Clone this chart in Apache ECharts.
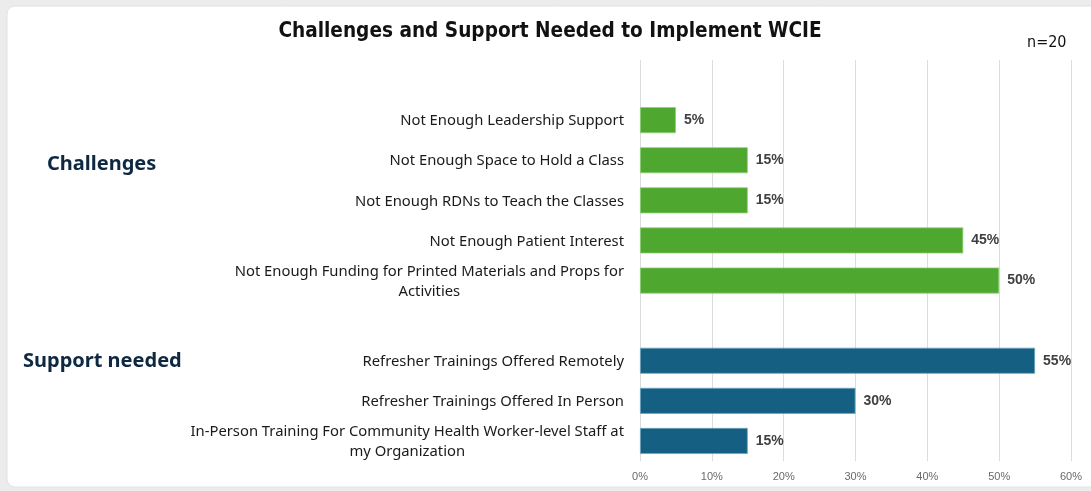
<!DOCTYPE html>
<html>
<head>
<meta charset="utf-8">
<script src="https://cdn.jsdelivr.net/npm/echarts@6/dist/echarts.min.js"></script>
<style>
html,body{margin:0;padding:0;background:#ececec;}
#c{width:1091px;height:491px;}
</style>
</head>
<body>
<div id="c"></div>
<script>
const categories = [
  ' ',
  'Not Enough Leadership Support',
  'Not Enough Space to Hold a Class',
  'Not Enough RDNs to Teach the Classes',
  'Not Enough Patient Interest',
  'Not Enough Funding for Printed Materials and Props for\nActivities',
  '  ',
  'Refresher Trainings Offered Remotely',
  'Refresher Trainings Offered In Person',
  'In-Person Training For Community Health Worker-level Staff at\nmy Organization'
];
const challenges = [null, 5, 15, 15, 45, 50, null, null, null, null];
const support = [null, null, null, null, null, null, null, 55, 30, 15];
const xTicks = [0, 10, 20, 30, 40, 50, 60];
const groupLabels = ['Challenges', 'Support needed'];
const titleText = 'Challenges and Support Needed to Implement WCIE';
const noteText = 'n=20';

const chart = echarts.init(document.getElementById('c'), null, {renderer: 'canvas'});
const labelStyle = {
  show: true, position: 'right', distance: 8,
  formatter: p => p.value == null ? '' : p.value + '%',
  fontFamily: 'Liberation Sans, Arial, sans-serif', fontWeight: 'bold', fontSize: 14, color: '#404040'
};
chart.setOption({
  animation: false,
  backgroundColor: '#ececec',
  title: {
    text: titleText, left: 545, textAlign: 'center', top: 16,
    textStyle: {fontFamily: 'DejaVu Sans Condensed', fontWeight: 'bold', fontSize: 20.6, color: '#111'}
  },
  graphic: [
    {type: 'rect', z: -10, shape: {x: 7, y: 6, width: 1100, height: 481, r: 8},
     style: {fill: '#ffffff', stroke: '#e2e2e2', lineWidth: 1}},
    {type: 'text', left: 1027, top: 35, style: {text: noteText, font: '16px "DejaVu Sans Condensed"', fill: '#111'}},
    {type: 'text', left: 47, top: 154, style: {text: groupLabels[0], font: 'bold 20px "Noto Sans"', fill: '#0e2841'}},
    {type: 'text', left: 23, top: 351, style: {text: groupLabels[1], font: 'bold 20px "Noto Sans"', fill: '#0e2841'}}
  ],
  grid: {left: 640, right: 20, top: 60, bottom: 30, containLabel: false},
  xAxis: {
    type: 'value', min: xTicks[0], max: xTicks[xTicks.length - 1], interval: 10,
    axisLine: {show: false}, axisTick: {show: false},
    splitLine: {show: true, lineStyle: {color: '#dcdcdc', width: 1}},
    axisLabel: {formatter: '{value}%', color: '#6a6a6a', fontSize: 11, margin: 10,
      fontFamily: 'Liberation Sans, Arial, sans-serif'}
  },
  yAxis: {
    type: 'category', inverse: true, data: categories,
    axisLine: {show: false}, axisTick: {show: false},
    axisLabel: {
      margin: 16, color: '#1a1a1a', fontSize: 15, fontFamily: 'Noto Sans',
      formatter: v => v.split('\n').map(s => '{c|' + s + '}').join('\n'),
      rich: {c: {align: 'center', fontSize: 14.8, fontFamily: 'Noto Sans', color: '#1a1a1a', lineHeight: 20, padding: [2, 0, 0, 0]}}
    }
  },
  series: [
    {type: 'bar', name: 'Challenges', data: challenges, stack: 'a', barWidth: 26,
     itemStyle: {color: '#4ea72e', borderColor: '#8fd175', borderWidth: 0.8}, label: labelStyle},
    {type: 'bar', name: 'Support needed', data: support, stack: 'a', barWidth: 26,
     itemStyle: {color: '#156082', borderColor: '#6fa6c0', borderWidth: 0.8}, label: labelStyle}
  ]
});
</script>
</body>
</html>
